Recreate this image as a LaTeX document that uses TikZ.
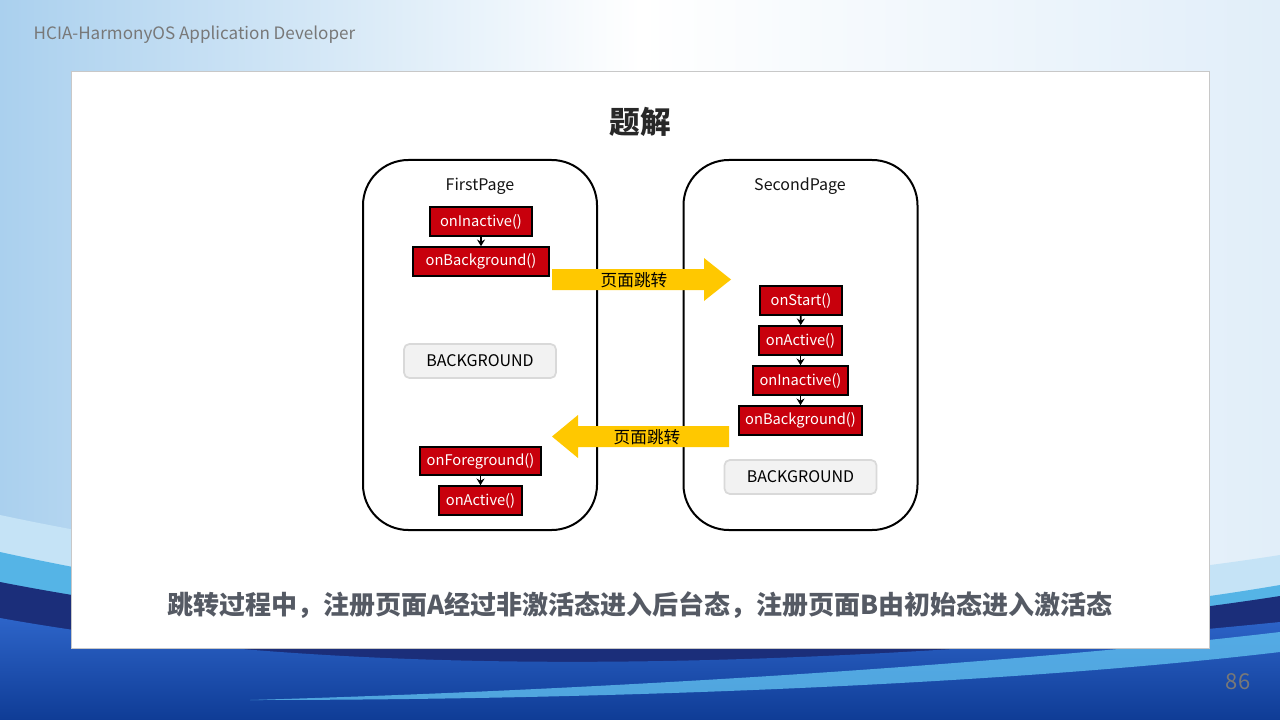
\documentclass[tikz,border=0pt]{standalone}
\usepackage{fontspec}
\setmainfont{Noto Sans CJK SC}
\usetikzlibrary{arrows.meta}
\definecolor{rbox}{RGB}{200,0,12}
\definecolor{yarr}{RGB}{255,200,0}
\definecolor{gfill}{RGB}{242,242,242}
\definecolor{gline}{RGB}{217,217,217}
\definecolor{bottomtext}{RGB}{85,90,100}
\definecolor{hdr}{RGB}{120,120,120}
\begin{document}
\begin{tikzpicture}[x=0.75pt,y=-0.75pt,
  redbox/.style={draw=black, line width=1.2pt, fill=rbox, text=white,
    font=\fontsize{11}{13}\selectfont, minimum height=21.75pt, inner sep=0pt},
  graybox/.style={draw=gline, line width=1.3pt, fill=gfill, rounded corners=4pt,
    font=\fontsize{12}{14}\selectfont, minimum width=114pt, minimum height=25.5pt, inner sep=0pt},
  pagebox/.style={draw=black, line width=1.5pt, rounded corners=34pt,
    minimum width=175.5pt, minimum height=277.5pt, inner sep=0pt},
  pagetitle/.style={font=\fontsize{12}{14}\selectfont, text={rgb,255:red,20;green,20;blue,20}},
  smallarrow/.style={line width=1.3pt, -{Stealth[length=5pt,width=6pt]}},
  yarrow/.style={fill=yarr},
  arrtext/.style={font=\fontsize{12.5}{14}\selectfont}]
\useasboundingbox (0,0) rectangle (1280,720);
% background
\shade[left color={rgb,255:red,170;green,208;blue,238}, right color={rgb,255:red,225;green,238;blue,249}, middle color=white] (0,0) rectangle (1280,720);
\fill[color={rgb,255:red,197;green,227;blue,246}] (0,515) .. controls (400,600) and (900,615) .. (1280,555) -- (1280,720) -- (0,720) -- cycle;
\fill[color={rgb,255:red,85;green,180;blue,230}] (0,552) .. controls (400,640) and (900,650) .. (1280,585) -- (1280,720) -- (0,720) -- cycle;
\fill[color={rgb,255:red,27;green,46;blue,122}] (0,582) .. controls (400,660) and (900,655) .. (1280,596) -- (1280,720) -- (0,720) -- cycle;
\shade[top color={rgb,255:red,45;green,100;blue,200}, bottom color={rgb,255:red,15;green,60;blue,150}] (0,618) .. controls (400,690) and (900,660) .. (1280,622) -- (1280,720) -- (0,720) -- cycle;
\fill[color={rgb,255:red,95;green,190;blue,238}, opacity=0.8] (250,700) .. controls (600,690) and (1000,665) .. (1280,632) -- (1280,652) .. controls (1000,685) and (600,700) .. (250,700) -- cycle;
% header
\node[anchor=west, text=hdr, font=\fontsize{12.8}{14}\selectfont] (hdrtxt) at (29,35) {HCIA-HarmonyOS Application Developer};
% panel
\fill[black!25] (72,73) rectangle (1210,649);
\node[draw={rgb,255:red,200;green,200;blue,200}, line width=0.75pt, fill=white, minimum width=853.5pt, minimum height=432pt, inner sep=0pt] (panel) at (640,360) {};
\node[text=hdr, font=\fontsize{16.5}{18}\selectfont] (pnum) at (1238,682) {86};
% title
\node[font=\bfseries\fontsize{23}{26}\selectfont, text={rgb,255:red,40;green,40;blue,40}] (title) at (640,122) {题解};
% pages
\node[pagebox] (p1) at (480,345) {};
\node[pagebox] (p2) at (800.5,345) {};
\node[pagetitle] (p1t) at (480,186) {FirstPage};
\node[pagetitle] (p2t) at (800,186) {SecondPage};
% first page
\node[redbox, minimum width=76.5pt] (a1) at (481,221.5) {onInactive()};
\node[redbox, minimum width=102pt] (a2) at (481,261.5) {onBackground()};
\draw[smallarrow] (a1) -- (a2);
\node[graybox] (g1) at (480,361) {BACKGROUND};
\node[redbox, minimum width=90.75pt, minimum height=21pt] (c1) at (480.5,461) {onForeground()};
\node[redbox, minimum width=62.25pt] (c2) at (480.5,500.5) {onActive()};
\draw[smallarrow] (c1) -- (c2);
% second page
\node[redbox, minimum width=61.5pt] (b1) at (801,300.5) {onStart()};
\node[redbox, minimum width=62.25pt] (b2) at (800.5,340.5) {onActive()};
\node[redbox, minimum width=71.25pt] (b3) at (800.5,380.5) {onInactive()};
\node[redbox, minimum width=92.25pt] (b4) at (800.5,420.5) {onBackground()};
\draw[smallarrow] (b1) -- (b2);
\draw[smallarrow] (b2) -- (b3);
\draw[smallarrow] (b3) -- (b4);
\node[graybox] (g2) at (800.5,477) {BACKGROUND};
% yellow arrows
\fill[yarrow] (552,269) -- (704,269) -- (704,258) -- (731,279.5) -- (704,301) -- (704,290) -- (552,290) -- cycle;
\node[arrtext] (t1) at (634,280) {页面跳转};
\fill[yarrow] (729,426) -- (578,426) -- (578,415) -- (552,436.5) -- (578,458) -- (578,447) -- (729,447) -- cycle;
\node[arrtext] (t2) at (647,437) {页面跳转};
% bottom text
\node[font=\bfseries\fontsize{19.5}{22}\selectfont, text=bottomtext] (summary) at (640,605) {跳转过程中，注册页面A经过非激活态进入后台态，注册页面B由初始态进入激活态};
\end{tikzpicture}
\end{document}
